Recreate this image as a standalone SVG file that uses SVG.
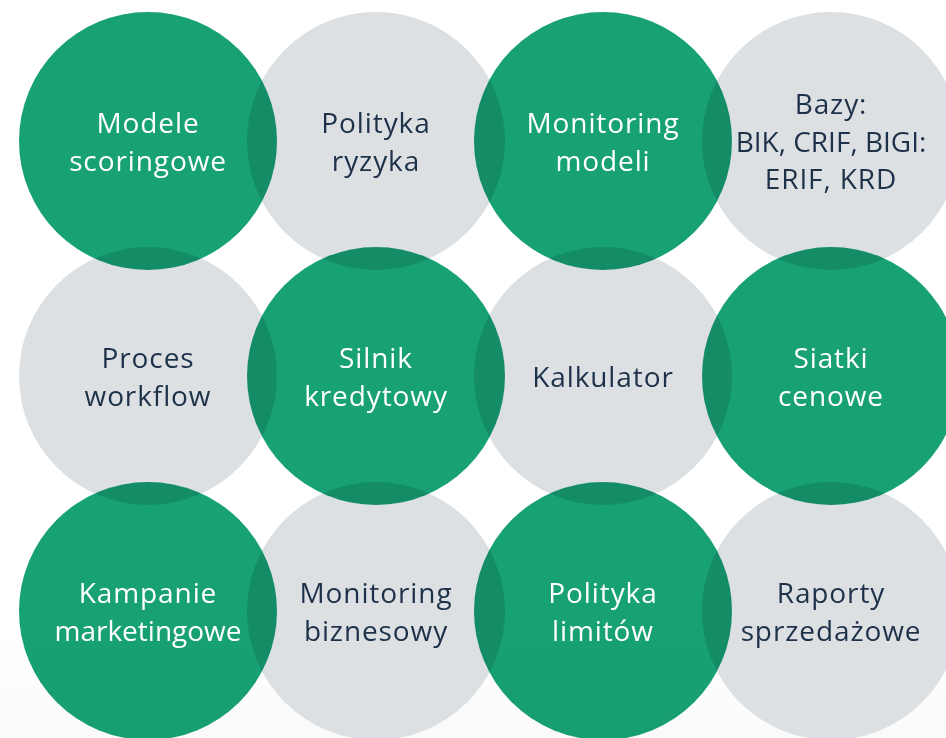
<svg xmlns="http://www.w3.org/2000/svg" width="946" height="738" viewBox="0 0 946 738">
<defs>
<style>
.g{fill:#17a174;mix-blend-mode:multiply}
.s{fill:#dce0e3}
text{font-family:"Open Sans","Noto Sans","Liberation Sans",sans-serif;font-size:28px;letter-spacing:0.9px;text-anchor:middle}
text.tight{letter-spacing:0}
.tw{fill:#ffffff}
.td{fill:#1d3149}
</style>
<linearGradient id="bg" x1="0" y1="0" x2="0" y2="1">
<stop offset="0" stop-color="#ffffff"/>
<stop offset="0.85" stop-color="#ffffff"/>
<stop offset="1" stop-color="#fafafa"/>
</linearGradient>
</defs>
<rect width="946" height="738" fill="url(#bg)"/>
<g id="connectors"></g>
<g id="gray-nodes">
<g id="n-polityka-ryzyka"><circle class="s" cx="376" cy="141" r="129"/></g>
<g id="n-bazy"><circle class="s" cx="831" cy="141" r="129"/></g>
<g id="n-proces"><circle class="s" cx="148" cy="376" r="129"/></g>
<g id="n-kalkulator"><circle class="s" cx="603" cy="376" r="129"/></g>
<g id="n-monitoring-biz"><circle class="s" cx="376" cy="611" r="129"/></g>
<g id="n-raporty"><circle class="s" cx="831" cy="611" r="129"/></g>
</g>
<g id="green-nodes">
<g id="n-modele"><circle class="g" cx="148" cy="141" r="129"/></g>
<g id="n-monitoring-mod"><circle class="g" cx="603" cy="141" r="129"/></g>
<g id="n-silnik"><circle class="g" cx="376" cy="376" r="129"/></g>
<g id="n-siatki"><circle class="g" cx="831" cy="376" r="129"/></g>
<g id="n-kampanie"><circle class="g" cx="148" cy="611" r="129"/></g>
<g id="n-polityka-lim"><circle class="g" cx="603" cy="611" r="129"/></g>
</g>
<g id="labels">
<text class="tw" x="148" y="133">Modele</text>
<text class="tw" x="148" y="171">scoringowe</text>
<text class="td" x="376" y="133">Polityka</text>
<text class="td" x="376" y="171">ryzyka</text>
<text class="tw" x="603" y="133">Monitoring</text>
<text class="tw" x="603" y="171">modeli</text>
<text class="td" x="831" y="114">Bazy:</text>
<text class="td tight" x="831" y="152">BIK, CRIF, BIGI:</text>
<text class="td" x="831" y="189">ERIF, KRD</text>
<text class="td" x="148" y="368">Proces</text>
<text class="td" x="148" y="406">workflow</text>
<text class="tw" x="376" y="368">Silnik</text>
<text class="tw" x="376" y="406">kredytowy</text>
<text class="td" x="603" y="387">Kalkulator</text>
<text class="tw" x="831" y="368">Siatki</text>
<text class="tw" x="831" y="406">cenowe</text>
<text class="tw" x="148" y="603">Kampanie</text>
<text class="tw tight" x="148" y="641">marketingowe</text>
<text class="td" x="376" y="603">Monitoring</text>
<text class="td" x="376" y="641">biznesowy</text>
<text class="tw" x="603" y="603">Polityka</text>
<text class="tw" x="603" y="641">limitów</text>
<text class="td" x="831" y="603">Raporty</text>
<text class="td" x="831" y="641">sprzedażowe</text>
</g>
</svg>
